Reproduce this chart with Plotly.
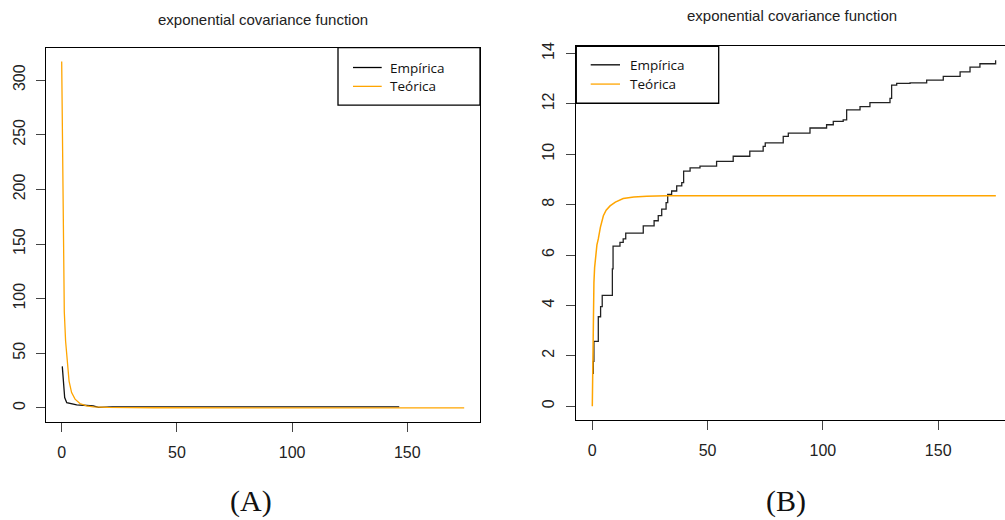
import plotly.graph_objects as go

W, H = 1005, 520

# ---------------- data ----------------
# Panel A: exponential covariance
a_emp_h = [0.26, 0.7, 1.3, 2.2, 3.6, 6.5, 9.4, 13.7, 16.0, 20.0, 22.0, 40.0, 80.0, 120.0, 146.5]
a_emp_v = [38.0, 24.5, 9.4, 4.8, 3.9, 2.7, 2.4, 1.8, 0.5, 0.4, 1.0, 1.0, 1.0, 1.0, 1.0]

a_teo_h = [0.0, 0.2, 0.45, 0.7, 1.13, 1.7, 2.45, 3.2, 4.3, 5.8, 7.9, 10.8, 13.7, 20.0, 40.0, 100.0, 174.7]
a_teo_v = [317.0, 274.0, 200.0, 149.0, 88.0, 61.0, 40.0, 24.5, 14.0, 8.0, 4.0, 1.8, 0.9, 0.4, 0.1, 0.0, 0.0]

# Panel B: semivariogram (step function for the empirical one)
b_emp_h = [0.43, 0.43, 0.7, 2.6, 3.6, 4.3, 8.7, 9.0, 12.0, 13.4, 14.5, 16.3, 22.1, 26.8, 28.6, 30.1,
           32.0, 32.7, 34.4, 36.6, 38.8, 39.6, 42.4, 46.7, 53.9, 61.1, 68.3, 74.1, 75.0, 82.8, 85.0,
           94.4, 101.6, 104.5, 108.8, 110.3, 116.1, 120.4, 129.1, 129.8, 132.0, 137.8, 145.0,
           152.2, 159.5, 163.8, 168.1, 174.9]
b_emp_v = [1.28, 1.78, 2.57, 3.55, 3.95, 4.40, 5.45, 6.35, 6.50, 6.64, 6.87, 6.87, 7.16, 7.36, 7.56, 7.82,
           8.08, 8.41, 8.54, 8.74, 8.87, 9.33, 9.46, 9.53, 9.72, 9.92, 10.12, 10.31, 10.45, 10.71, 10.84,
           11.04, 11.17, 11.30, 11.36, 11.76, 11.89, 12.05, 12.22, 12.74, 12.81, 12.83, 12.94,
           13.09, 13.27, 13.46, 13.59, 13.73]

b_teo_h = [0.0, 0.15, 0.3, 0.45, 0.7, 1.0, 1.5, 2.0, 2.6, 3.5, 4.8, 6.0, 7.7, 10.0, 13.4, 18.0, 23.6,
           32.0, 60.0, 100.0, 140.0, 175.0]
b_teo_v = [0.0, 1.8, 3.2, 4.2, 4.9, 5.5, 6.05, 6.4, 6.64, 7.1, 7.56, 7.78, 7.95, 8.1, 8.24, 8.3, 8.33,
           8.35, 8.35, 8.35, 8.35, 8.35]

series_names = ["Empírica", "Teórica"]
a_xticks = [0, 50, 100, 150]
a_yticks = [0, 50, 100, 150, 200, 250, 300]
b_xticks = [0, 50, 100, 150]
b_yticks = [0, 2, 4, 6, 8, 10, 12, 14]
title_text = "exponential covariance function"
panel_labels = ["(A)", "(B)"]

# ---------------- styling ----------------
BLACK = "#111111"
ORANGE = "#FFA500"
TICKFONT = dict(family="Liberation Sans, Arial, sans-serif", size=16, color="#222222")


def X(px):
    return px / W


def Y(py):
    return 1 - py / H


fig = go.Figure()
fig.add_trace(go.Scatter(x=a_emp_h, y=a_emp_v, mode="lines", name=series_names[0],
                         line=dict(color=BLACK, width=1.3), xaxis="x", yaxis="y", showlegend=False))
fig.add_trace(go.Scatter(x=a_teo_h, y=a_teo_v, mode="lines", name=series_names[1],
                         line=dict(color=ORANGE, width=1.3), xaxis="x", yaxis="y", showlegend=False))
fig.add_trace(go.Scatter(x=b_emp_h, y=b_emp_v, mode="lines", name=series_names[0], line_shape="hv",
                         line=dict(color="#222222", width=1.3), xaxis="x2", yaxis="y2", showlegend=False))
fig.add_trace(go.Scatter(x=b_teo_h, y=b_teo_v, mode="lines", name=series_names[1],
                         line=dict(color=ORANGE, width=1.5), xaxis="x2", yaxis="y2", showlegend=False))

axis_common = dict(showgrid=False, zeroline=False, ticks="outside", ticklen=9, tickwidth=1,
                   tickcolor="#444444", tickfont=TICKFONT, linecolor="black", linewidth=1.3,
                   showline=True)

fig.update_layout(
    width=W, height=H, margin=dict(l=0, r=0, t=0, b=0),
    paper_bgcolor="white", plot_bgcolor="white",
    xaxis=dict(domain=[X(45.7), X(480)], range=[-6.94, 181.56], tickvals=a_xticks,
               mirror=True, anchor="y", ticklabelstandoff=7, **axis_common),
    yaxis=dict(domain=[Y(421), Y(44)], range=[-12.7, 329.7], tickvals=a_yticks,
               mirror=True, anchor="x", tickangle=-90, ticklabelstandoff=4, **axis_common),
    xaxis2=dict(domain=[X(576.3), 1.0], range=[-6.94, 178.97], tickvals=b_xticks,
                mirror=True, anchor="y2", ticklabelstandoff=7, **axis_common),
    yaxis2=dict(domain=[Y(419.3), Y(42.7)], range=[-0.55, 14.28], tickvals=b_yticks,
                mirror=False, anchor="x2", tickangle=-90, ticklabelstandoff=6, **axis_common),
)

annotations = []
shapes = []
# titles
for cx, cy in [(263, 16), (791.7, 12)]:
    annotations.append(dict(text=title_text, x=X(cx), y=Y(cy), xref="paper", yref="paper",
                            xanchor="center", yanchor="middle", showarrow=False,
                            font=dict(family="Liberation Sans, Arial, sans-serif", size=15,
                                      color="#222222")))
# panel labels
for lab, cx in zip(panel_labels, [250.5, 786]):
    annotations.append(dict(text=lab, x=X(cx), y=Y(501), xref="paper", yref="paper",
                            xanchor="center", yanchor="middle", showarrow=False,
                            font=dict(family="Liberation Serif, DejaVu Serif, serif", size=30,
                                      color="#111111")))

# legends (R style boxes)
legends = [
    dict(box=(338, 44, 480, 102), line_x=(353, 381.7), text_x=388, ys=(64, 83)),
    dict(box=(576.3, 42.7, 718.7, 100), line_x=(590.7, 620), text_x=627.7, ys=(61.3, 80.7)),
]
for lg in legends:
    x0, y0, x1, y1 = lg["box"]
    shapes.append(dict(type="rect", xref="paper", yref="paper", x0=X(x0), x1=X(x1), y0=Y(y1), y1=Y(y0),
                       line=dict(color="black", width=1.3), fillcolor="white", layer="above"))
    for name, col, yy in zip(series_names, ["black", ORANGE], lg["ys"]):
        shapes.append(dict(type="line", xref="paper", yref="paper", x0=X(lg["line_x"][0]),
                           x1=X(lg["line_x"][1]), y0=Y(yy), y1=Y(yy),
                           line=dict(color=col, width=1.3), layer="above"))
        annotations.append(dict(text=name, x=X(lg["text_x"]), y=Y(yy), xref="paper", yref="paper",
                                xanchor="left", yanchor="middle", showarrow=False,
                                font=dict(family="Open Sans, Noto Sans, sans-serif", size=13.5,
                                          color="#111111")))

fig.update_layout(annotations=annotations, shapes=shapes)
fig.write_html("out.html")
